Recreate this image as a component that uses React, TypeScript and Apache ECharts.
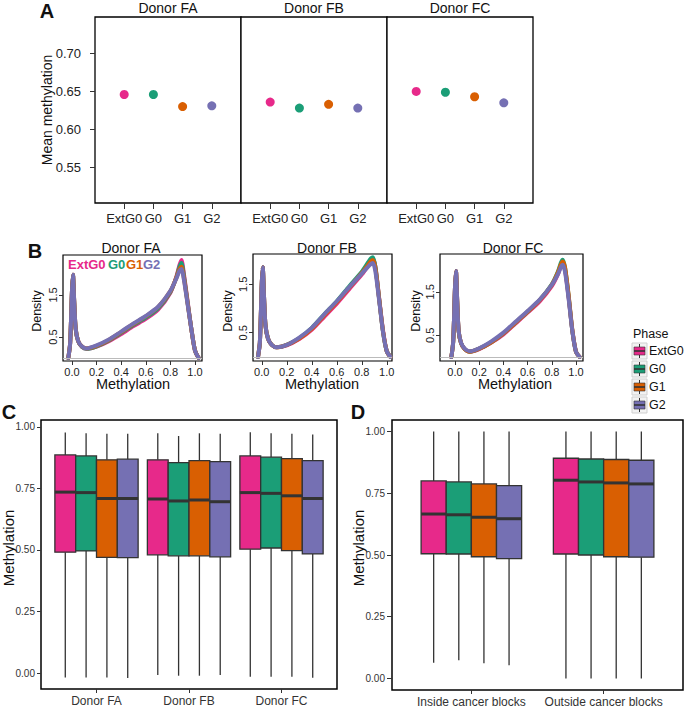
import React, { useEffect, useRef } from 'react';
import * as echarts from 'echarts';

const FONT = "'Liberation Sans', Arial, Helvetica, sans-serif";

const PHASES = ['ExtG0', 'G0', 'G1', 'G2'];
const COLORS = ['#E7298A', '#1B9E77', '#D95F02', '#7570B3'];
const DONORS = ['Donor FA', 'Donor FB', 'Donor FC'];
const BLOCKS = ['Inside cancer blocks', 'Outside cancer blocks'];

// Panel A: mean methylation per phase
const MEAN_FA = [0.646, 0.646, 0.630, 0.631];
const MEAN_FB = [0.636, 0.628, 0.633, 0.628];
const MEAN_FC = [0.650, 0.649, 0.643, 0.635];
const A_YTICKS = [0.55, 0.6, 0.65, 0.7];

// Panel B: density curves (x grid shared), one row per phase
const DENS_X = [-0.03, -0.015, 0, 0.008, 0.018, 0.03, 0.05, 0.08, 0.12, 0.2, 0.3, 0.4, 0.5, 0.6, 0.7, 0.8, 0.85, 0.875, 0.89, 0.91, 0.94, 0.97, 1.0, 1.03];
const DENS_FA = [
  [0, 0.35, 1.6, 1.98, 1.35, 0.7, 0.4, 0.27, 0.22, 0.27, 0.40, 0.57, 0.76, 0.93, 1.15, 1.55, 1.95, 2.22, 2.33, 2.0, 1.35, 0.7, 0.18, 0],
  [0, 0.35, 1.6, 1.98, 1.35, 0.7, 0.4, 0.27, 0.22, 0.28, 0.42, 0.60, 0.79, 0.96, 1.18, 1.57, 1.93, 2.18, 2.26, 1.95, 1.32, 0.7, 0.18, 0],
  [0, 0.35, 1.6, 1.98, 1.35, 0.7, 0.41, 0.28, 0.23, 0.29, 0.43, 0.62, 0.81, 0.99, 1.21, 1.59, 1.92, 2.12, 2.17, 1.9, 1.3, 0.7, 0.18, 0],
  [0, 0.35, 1.6, 1.98, 1.35, 0.7, 0.41, 0.28, 0.23, 0.30, 0.44, 0.63, 0.82, 1.00, 1.22, 1.60, 1.9, 2.08, 2.12, 1.86, 1.28, 0.7, 0.18, 0],
];
const DENS_FB = [
  [0, 0.3, 1.5, 1.85, 1.25, 0.65, 0.38, 0.25, 0.2, 0.24, 0.37, 0.56, 0.83, 1.10, 1.40, 1.70, 1.88, 1.98, 2.02, 1.85, 1.2, 0.55, 0.12, 0],
  [0, 0.3, 1.5, 1.85, 1.25, 0.65, 0.38, 0.25, 0.2, 0.25, 0.39, 0.60, 0.88, 1.15, 1.46, 1.76, 1.95, 2.04, 2.06, 1.85, 1.18, 0.52, 0.12, 0],
  [0, 0.3, 1.5, 1.85, 1.25, 0.65, 0.38, 0.25, 0.2, 0.25, 0.38, 0.58, 0.86, 1.13, 1.43, 1.73, 1.90, 1.98, 2.00, 1.82, 1.18, 0.53, 0.12, 0],
  [0, 0.3, 1.5, 1.85, 1.25, 0.65, 0.38, 0.25, 0.2, 0.25, 0.40, 0.60, 0.88, 1.15, 1.44, 1.72, 1.86, 1.92, 1.94, 1.75, 1.15, 0.52, 0.12, 0],
];
const DENS_FC = [
  [0, 0.35, 1.6, 1.98, 1.3, 0.6, 0.32, 0.18, 0.12, 0.18, 0.33, 0.52, 0.77, 1.02, 1.28, 1.63, 1.90, 2.10, 2.18, 2.0, 1.35, 0.6, 0.12, 0],
  [0, 0.35, 1.6, 1.98, 1.3, 0.6, 0.32, 0.18, 0.12, 0.19, 0.34, 0.54, 0.79, 1.04, 1.31, 1.67, 1.96, 2.17, 2.24, 2.05, 1.38, 0.6, 0.12, 0],
  [0, 0.35, 1.6, 1.98, 1.3, 0.6, 0.32, 0.18, 0.12, 0.19, 0.34, 0.54, 0.79, 1.04, 1.31, 1.66, 1.94, 2.13, 2.20, 2.05, 1.40, 0.62, 0.12, 0],
  [0, 0.35, 1.6, 1.98, 1.3, 0.6, 0.33, 0.19, 0.13, 0.20, 0.36, 0.56, 0.81, 1.06, 1.32, 1.66, 1.90, 2.07, 2.12, 1.95, 1.32, 0.6, 0.12, 0],
];

// Panel C: [min, q1, median, q3, max] per donor, one array per phase
const BOX_C_EXTG0 = [[-0.018, 0.491, 0.735, 0.886, 0.977], [-0.008, 0.480, 0.707, 0.866, 0.974], [-0.015, 0.503, 0.733, 0.882, 0.978]];
const BOX_C_G0 = [[-0.018, 0.496, 0.733, 0.882, 0.974], [-0.011, 0.476, 0.699, 0.855, 0.963], [-0.015, 0.508, 0.730, 0.877, 0.974]];
const BOX_C_G1 = [[-0.018, 0.470, 0.709, 0.866, 0.972], [-0.011, 0.476, 0.703, 0.863, 0.974], [-0.015, 0.497, 0.720, 0.871, 0.972]];
const BOX_C_G2 = [[-0.020, 0.469, 0.709, 0.869, 0.972], [-0.008, 0.472, 0.696, 0.859, 0.972], [-0.019, 0.484, 0.709, 0.863, 0.969]];

// Panel D: [min, q1, median, q3, max] per block set, one array per phase
const BOX_D_EXTG0 = [[0.063, 0.505, 0.666, 0.800, 1.0], [0, 0.504, 0.803, 0.892, 1.0]];
const BOX_D_G0 = [[0.074, 0.504, 0.663, 0.796, 1.0], [0, 0.500, 0.796, 0.889, 1.0]];
const BOX_D_G1 = [[0.061, 0.493, 0.653, 0.788, 1.0], [0, 0.493, 0.792, 0.887, 1.0]];
const BOX_D_G2 = [[0.053, 0.485, 0.647, 0.781, 1.0], [0, 0.491, 0.788, 0.884, 1.0]];
const BOX_TICKS = [0, 0.25, 0.5, 0.75, 1.0];

function valAxis(gridIndex: number, min: number, max: number, ticks: number[] | null, fmt: (v: number) => string, fs: number, margin: number, tickLen: number, extra: any = {}) {
  return {
    type: 'value', gridIndex, min, max,
    axisLine: { show: false, onZero: false },
    splitLine: { show: false },
    axisTick: ticks ? { show: true, customValues: ticks, length: tickLen, lineStyle: { color: '#333', width: 1 } } : { show: false },
    axisLabel: ticks ? { show: true, customValues: ticks, formatter: fmt, fontSize: fs, margin, color: '#222', fontFamily: FONT, ...extra } : { show: false },
  };
}

function boxRender(phaseIdx: number, boxW: number) {
  return (params: any, api: any) => {
    const g = api.value(0);
    const cx = g + (phaseIdx - 1.5) * boxW;
    const pMin = api.coord([cx, api.value(1)]);
    const pQ1 = api.coord([cx, api.value(2)]);
    const pMed = api.coord([cx, api.value(3)]);
    const pQ3 = api.coord([cx, api.value(4)]);
    const pMax = api.coord([cx, api.value(5)]);
    const xl = api.coord([cx - boxW / 2, 0.5])[0];
    const xr = api.coord([cx + boxW / 2, 0.5])[0];
    const st = { stroke: '#333', lineWidth: 1.3 };
    return {
      type: 'group',
      children: [
        { type: 'line', shape: { x1: pMax[0], y1: pMax[1], x2: pQ3[0], y2: pQ3[1] }, style: st },
        { type: 'line', shape: { x1: pQ1[0], y1: pQ1[1], x2: pMin[0], y2: pMin[1] }, style: st },
        { type: 'rect', shape: { x: xl, y: pQ3[1], width: xr - xl, height: pQ1[1] - pQ3[1] }, style: { fill: COLORS[phaseIdx], stroke: '#333', lineWidth: 1.3 } },
        { type: 'line', shape: { x1: xl, y1: pMed[1], x2: xr, y2: pMed[1] }, style: { stroke: '#333', lineWidth: 3 } },
      ],
    };
  };
}

function txt(text: string, x: number, y: number, fontSize: number, opts: any = {}) {
  const { rotation, align, weight, fill } = opts;
  return {
    type: 'text', x, y, rotation: rotation || 0, silent: true,
    style: {
      text, fill: fill || '#111', fontSize, fontFamily: FONT, fontWeight: weight || 'normal',
      textAlign: align || 'center', textVerticalAlign: 'middle',
    },
  };
}

export default function App() {
  const ref = useRef<HTMLDivElement>(null);
  useEffect(() => {
    if (!ref.current) return;
    const chart = echarts.init(ref.current, undefined, { renderer: 'svg' });

    const grids = [
      { left: 95, top: 17, width: 146, height: 186, bw: 1.3 },
      { left: 241, top: 17, width: 146, height: 186, bw: 1.3 },
      { left: 387, top: 17, width: 146, height: 186, bw: 1.3 },
      { left: 63, top: 255, width: 139, height: 106, bw: 1.2 },
      { left: 253, top: 254, width: 139, height: 107, bw: 1.2 },
      { left: 440, top: 254, width: 143, height: 107, bw: 1.2 },
      { left: 41, top: 420, width: 296, height: 269, bw: 1.5 },
      { left: 392, top: 420, width: 291, height: 270, bw: 1.5 },
    ].map(({ bw, ...g }) => ({ ...g, show: true, borderColor: '#000', borderWidth: bw, backgroundColor: '#fff' }));

    const phaseFmt = (v: number) => PHASES[Math.round(v) - 1] || '';
    const f1 = (v: number) => Number(v).toFixed(1);
    const f2 = (v: number) => Number(v).toFixed(2);

    const xAxis = [
      valAxis(0, 0, 5, [1, 2, 3, 4], phaseFmt, 13, 9, 6),
      valAxis(1, 0, 5, [1, 2, 3, 4], phaseFmt, 13, 9, 6),
      valAxis(2, 0, 5, [1, 2, 3, 4], phaseFmt, 13, 9, 6),
      valAxis(3, -0.073, 1.057, [0, 0.2, 0.4, 0.6, 0.8, 1.0], f1, 11, 5, 4),
      valAxis(4, -0.07, 1.042, [0, 0.2, 0.4, 0.6, 0.8, 1.0], f1, 11, 5, 4),
      valAxis(5, -0.124, 1.058, [0, 0.2, 0.4, 0.6, 0.8, 1.0], f1, 11, 5, 4),
      valAxis(6, 0.4, 3.6, [1, 2, 3], (v) => DONORS[Math.round(v) - 1] || '', 12, 6, 4, { color: '#333' }),
      valAxis(7, 0.4, 2.6, [1, 2], (v) => BLOCKS[Math.round(v) - 1] || '', 12, 6, 4, { color: '#333' }),
    ];
    const yAxis = [
      valAxis(0, 0.5025, 0.7485, A_YTICKS, f2, 13, 14, 5),
      valAxis(1, 0.5025, 0.7485, null, f2, 13, 14, 5),
      valAxis(2, 0.5025, 0.7485, null, f2, 13, 14, 5),
      valAxis(3, -0.07, 2.45, [0.5, 1.5], f1, 11, 5, 4, { rotate: 90 }),
      valAxis(4, -0.083, 2.125, [0.5, 1.5], f1, 11, 5, 4, { rotate: 90 }),
      valAxis(5, -0.093, 2.37, [0.5, 1.5], f1, 11, 5, 4, { rotate: 90 }),
      valAxis(6, -0.065, 1.028, BOX_TICKS, f2, 10, 6, 4, { color: '#333' }),
      valAxis(7, -0.047, 1.047, BOX_TICKS, f2, 10, 7, 5, { color: '#333' }),
    ];

    const series: any[] = [];
    // Panel A
    [MEAN_FA, MEAN_FB, MEAN_FC].forEach((vals, di) => {
      series.push({
        type: 'scatter', xAxisIndex: di, yAxisIndex: di, symbolSize: 9, silent: true,
        data: vals.map((v, i) => ({ value: [i + 1, v], itemStyle: { color: COLORS[i], opacity: 1 } })),
      });
    });
    // Panel B
    [DENS_FA, DENS_FB, DENS_FC].forEach((rows, di) => {
      rows.forEach((ys, pi) => {
        const s: any = {
          type: 'line', xAxisIndex: 3 + di, yAxisIndex: 3 + di, showSymbol: false, silent: true,
          smooth: 0.25, clip: true,
          lineStyle: { color: COLORS[pi], width: 4, cap: 'round', join: 'round' },
          data: DENS_X.map((x, k) => [x, ys[k]]),
        };
        if (pi === 0) {
          s.markLine = {
            silent: true, symbol: 'none', label: { show: false },
            lineStyle: { color: '#bbb', width: 1, type: 'solid' },
            data: [{ yAxis: 0 }],
          };
        }
        series.push(s);
      });
    });
    // Panel C
    [BOX_C_EXTG0, BOX_C_G0, BOX_C_G1, BOX_C_G2].forEach((rows, pi) => {
      series.push({
        type: 'custom', name: PHASES[pi], xAxisIndex: 6, yAxisIndex: 6, silent: true,
        renderItem: boxRender(pi, 0.225),
        dimensions: ['g', 'min', 'q1', 'med', 'q3', 'max'],
        encode: { x: 0, y: [1, 5] },
        data: rows.map((r, gi) => [gi + 1, ...r]),
      });
    });
    // Panel D
    [BOX_D_EXTG0, BOX_D_G0, BOX_D_G1, BOX_D_G2].forEach((rows, pi) => {
      series.push({
        type: 'custom', name: PHASES[pi], xAxisIndex: 7, yAxisIndex: 7, silent: true,
        renderItem: boxRender(pi, 0.19),
        dimensions: ['g', 'min', 'q1', 'med', 'q3', 'max'],
        encode: { x: 0, y: [1, 5] },
        data: rows.map((r, gi) => [gi + 1, ...r]),
      });
    });

    const graphics: any[] = [
      txt('A', 47, 11, 20, { weight: 'bold' }),
      txt('B', 35, 251, 20, { weight: 'bold' }),
      txt('C', 9, 412, 20, { weight: 'bold' }),
      txt('D', 358, 412, 20, { weight: 'bold' }),
      // A
      txt('Donor FA', 168, 8, 14),
      txt('Donor FB', 314, 8, 14),
      txt('Donor FC', 460, 8, 14),
      txt('Mean methylation', 47, 110, 14, { rotation: Math.PI / 2 }),
      // B
      txt('Donor FA', 131, 248, 14),
      txt('Donor FB', 327, 248, 14),
      txt('Donor FC', 513, 248, 14),
      txt('Density', 37, 311, 12.5, { rotation: Math.PI / 2 }),
      txt('Density', 228, 311, 12.5, { rotation: Math.PI / 2 }),
      txt('Density', 416, 311, 12.5, { rotation: Math.PI / 2 }),
      txt('Methylation', 133, 384, 14.5),
      txt('Methylation', 322, 384, 14.5),
      txt('Methylation', 515, 384, 14.5),
      txt('ExtG0', 68, 264, 13, { align: 'left', weight: 'bold', fill: COLORS[0] }),
      txt('G0', 108, 264, 13, { align: 'left', weight: 'bold', fill: COLORS[1] }),
      txt('G1', 126, 264, 13, { align: 'left', weight: 'bold', fill: COLORS[2] }),
      txt('G2', 143, 264, 13, { align: 'left', weight: 'bold', fill: COLORS[3] }),
      // C / D
      txt('Methylation', 8, 548, 15, { rotation: Math.PI / 2 }),
      txt('Methylation', 358, 548, 15, { rotation: Math.PI / 2 }),
      // Legend
      txt('Phase', 633, 334, 12.5, { align: 'left' }),
    ];
    PHASES.forEach((p, i) => {
      const cy = 351 + i * 18;
      const x0 = 632;
      graphics.push({ type: 'rect', silent: true, shape: { x: x0, y: cy - 8, width: 15, height: 16 }, style: { fill: '#f2f2f2', stroke: '#cfcfcf', lineWidth: 1 } });
      graphics.push({ type: 'line', silent: true, shape: { x1: x0 + 7.5, y1: cy - 7, x2: x0 + 7.5, y2: cy + 7 }, style: { stroke: '#333', lineWidth: 1 } });
      graphics.push({ type: 'rect', silent: true, shape: { x: x0 + 2, y: cy - 4, width: 11, height: 8 }, style: { fill: COLORS[i], stroke: '#333', lineWidth: 0.6 } });
      graphics.push({ type: 'line', silent: true, shape: { x1: x0 + 2, y1: cy, x2: x0 + 13, y2: cy }, style: { stroke: '#333', lineWidth: 1.6 } });
      graphics.push(txt(p, 649, cy, 12.5, { align: 'left' }));
    });

    chart.setOption({
      animation: false,
      backgroundColor: '#fff',
      textStyle: { fontFamily: FONT },
      grid: grids,
      xAxis,
      yAxis,
      series,
      graphic: { elements: graphics },
    });
    return () => chart.dispose();
  }, []);
  return <div ref={ref} style={{ position: 'absolute', left: 0, top: 0, width: 685, height: 711, background: '#fff' }} />;
}
